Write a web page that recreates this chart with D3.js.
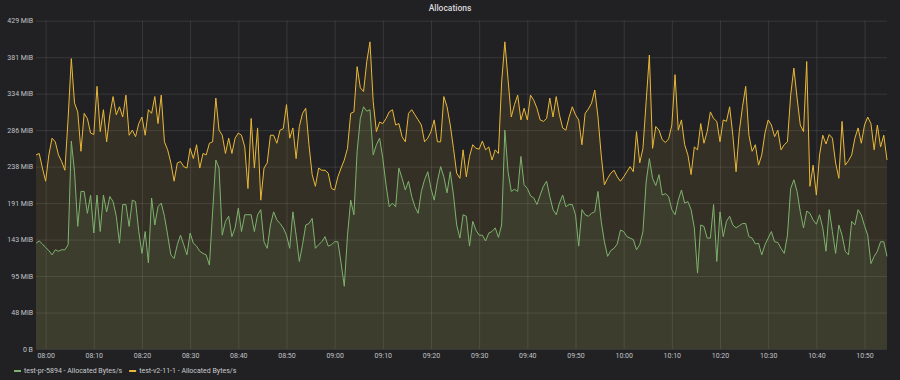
<!DOCTYPE html>
<html><head><meta charset="utf-8">
<script src="https://cdn.jsdelivr.net/npm/d3@7"></script>
<style>html,body{margin:0;padding:0;background:#212124;overflow:hidden}</style>
</head><body><svg id="c" width="900" height="380"></svg>
<script>
// ---- data (values in MB/s = 1e6 bytes/s, one sample every 40 s) ----
const title = "Allocations";
const seriesNames = ["test-pr-5894 - Allocated Bytes/s", "test-v2-11-1 - Allocated Bytes/s"];
const seriesColors = ["#7EB26D", "#EAB839"];
const startTime = [2020, 0, 1, 7, 58, 0];
const stepSeconds = 40;
const prValues = [
145,148,144,139,135,129,136,134,136,136, 143,285,243,168,216,216,186,211,159,211,
161,211,188,209,202,182,145,198,198,168, 204,202,161,131,161,118,207,170,195,200,
182,156,129,124,143,
156,143,129,159,145,141,134,131,129,115, 188,259,248,156,175,182,154,166,193,161,
184,184,184,161,184,191,147,138,170,188, 177,172,166,156,138,188,156,120,143,170,
172,179,138,143,
147,154,141,143,147,147,118,86,156,204, 184,271,316,332,326,328,266,280,289,261,
225,195,200,195,248,234,218,230,209,195, 186,216,232,243,220,204,230,250,236,214,
243,211,170,152,
184,182,141,175,163,156,156,148,159,161, 166,153,170,300,243,216,219,216,264,225,
220,210,207,198,211,223,230,209,191,184, 200,211,195,198,198,184,141,191,184,182,
186,188,216,175,
147,127,135,138,144,163,161,154,152,150, 136,143,161,229,261,234,224,239,211,213,
209,191,184,204,218,200,202,191,166,104, 170,168,152,152,198,120,188,154,175,182,
170,166,169,172,172,
154,152,144,145,129,143,152,161,147,146, 138,131,156,220,232,216,188,166,189,186,
177,171,184,166,134,191,161,131,170,156, 134,129,175,170,191,184,169,156,117,127,
134,147,147,127
];
const v2Values = [
266,268,248,230,266,289,284,266,257,245, 316,398,337,325,271,323,316,296,294,360,
298,328,284,321,346,321,332,318,348,293, 300,291,309,318,293,328,323,346,309,348,
284,273,255,230,255,
257,250,248,275,261,280,248,268,266,282, 284,344,300,293,268,289,268,289,296,293,
277,220,316,248,303,204,248,255,293,293, 282,300,302,335,289,303,261,305,323,330,
280,239,223,248,
245,245,241,220,218,236,248,259,275,323, 325,387,358,353,394,421,339,298,311,309,
316,325,328,307,309,291,284,323,328,321, 314,307,284,289,298,314,284,284,346,332,
307,275,241,234,
273,236,264,280,275,274,285,273,277,259, 273,268,366,421,369,318,335,348,314,330,
314,348,341,330,314,312,316,344,318,346, 321,303,300,318,332,321,314,280,323,329,
337,355,318,266,
225,234,241,245,236,230,236,243,250,243, 298,255,275,339,403,275,305,300,287,283,
288,307,376,300,314,280,266,239,277,273, 309,282,298,325,316,312,284,314,312,332,
293,243,298,332,360,
293,271,280,252,266,296,314,307,291,300, 273,280,284,348,385,344,307,298,394,223,
252,211,266,293,281,294,289,255,234,312, 252,258,266,289,303,282,307,318,309,273,
307,277,293,259
];
const yTickMB = [0, 50, 100, 150, 200, 250, 300, 350, 400, 450];
const xTickMinutes = 10;

// ---- chart ----
const svg = d3.select("#c");
const plot = {left: 36, right: 887, top: 20.7, bottom: 349};
const t0 = new Date(...startTime);
const timeAt = i => new Date(t0.getTime() + i * stepSeconds * 1000);
const seriesValues = [prValues, v2Values];
const series = seriesValues.map((vals, k) => ({
  name: seriesNames[k], color: seriesColors[k],
  points: vals.map((v, i) => ({t: timeAt(i), v: v * 1e6}))
}));
const n = prValues.length;
const x = d3.scaleTime().domain([t0, timeAt(n - 1)]).range([plot.left, plot.right]);
const y = d3.scaleLinear().domain([0, yTickMB[yTickMB.length - 1] * 1e6]).range([plot.bottom, plot.top]);

svg.append("rect").attr("width", 900).attr("height", 380).attr("fill", "#212124");

svg.append("text").attr("x", 450).attr("y", 11).attr("text-anchor", "middle")
  .attr("font-family", "Roboto, sans-serif").attr("font-size", 8.5).attr("font-weight", 500)
  .attr("fill", "#d8d9da").text(title);

const fmtY = v => v === 0 ? "0 B" : Math.round(v / 1048576) + " MiB";
const yAxis = d3.axisLeft(y).tickValues(yTickMB.map(v => v * 1e6)).tickFormat(fmtY)
  .tickSize(-(plot.right - plot.left)).tickPadding(3);
const gy = svg.append("g").attr("transform", `translate(${plot.left},0)`).call(yAxis);
gy.select(".domain").remove();
gy.selectAll(".tick line").attr("stroke", "#ffffff").attr("stroke-opacity", 0.1);
gy.selectAll(".tick text").attr("fill", "#c0c3c6").attr("font-size", 7)
  .attr("font-family", "Roboto, sans-serif");

const xAxis = d3.axisBottom(x).ticks(d3.timeMinute.every(xTickMinutes))
  .tickFormat(d3.timeFormat("%H:%M")).tickSize(-(plot.bottom - plot.top)).tickPadding(4);
const gx = svg.append("g").attr("transform", `translate(0,${plot.bottom})`).call(xAxis);
gx.select(".domain").remove();
gx.selectAll(".tick line").attr("stroke", "#ffffff").attr("stroke-opacity", 0.1);
gx.selectAll(".tick text").attr("fill", "#c0c3c6").attr("font-size", 7)
  .attr("font-family", "Roboto, sans-serif");

const area = d3.area().x(d => x(d.t)).y0(y(0)).y1(d => y(d.v));
const line = d3.line().x(d => x(d.t)).y(d => y(d.v));

[1, 0].forEach(k => {
  svg.append("path").datum(series[k].points).attr("d", area)
    .attr("fill", series[k].color).attr("fill-opacity", 0.1);
});
[0, 1].forEach(k => {
  svg.append("path").datum(series[k].points).attr("d", line)
    .attr("fill", "none").attr("stroke", series[k].color).attr("stroke-width", 1)
    .attr("stroke-linejoin", "round");
});

// legend
let lx = 14;
const ly = 371;
series.forEach(s => {
  svg.append("rect").attr("x", lx).attr("y", ly - 1).attr("width", 7).attr("height", 2)
    .attr("fill", s.color);
  const t = svg.append("text").attr("x", lx + 10).attr("y", ly).attr("dy", "0.33em")
    .attr("font-family", "Roboto, sans-serif").attr("font-size", 7)
    .attr("fill", "#c8cacc").text(s.name);
  lx += 10 + t.node().getComputedTextLength() + 7;
});
</script></body></html>
